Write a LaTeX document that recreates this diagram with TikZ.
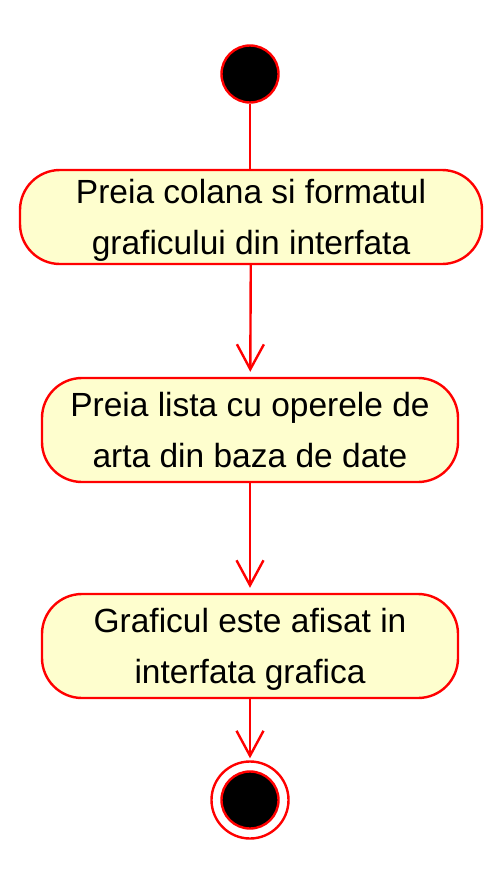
\documentclass[tikz,border=0pt]{standalone}
\usepackage{fontspec}
\setmainfont{Liberation Sans}
\usepackage{xcolor}
\usetikzlibrary{positioning,arrows.meta}
\definecolor{actfill}{HTML}{FEFECE}
\definecolor{actline}{HTML}{FF0000}

\begin{document}
\begin{tikzpicture}[
    x=1pt, y=-1pt,
    >={Straight Barb[length=25pt, width=27pt, line width=2.4pt]},
    flow/.style={draw=actline, line width=2.4pt},
    action/.style={rectangle, rounded corners=40pt, draw=actline, line width=2.4pt, fill=actfill,
        align=center, font=\fontsize{33.5}{51.5}\selectfont, inner sep=0pt, text depth=-12pt},
    startdot/.style={circle, draw=actline, line width=2.4pt, fill=black, minimum size=57pt, inner sep=0pt},
    enddot/.style={circle, draw=actline, line width=2.4pt, fill=white, minimum size=77pt, inner sep=0pt}
]
\useasboundingbox (0,0) rectangle (494,878);

% Start
\node[startdot] (start) at (250,74) {};

% Actions
\node[action, minimum width=462pt, minimum height=94pt] (read) at (251,217)
    {Preia colana si formatul\\graficului din interfata};
\node[action, minimum width=416pt, minimum height=104pt] (list) at (250,430)
    {Preia lista cu operele de\\arta din baza de date};
\node[action, minimum width=416pt, minimum height=104pt] (show) at (250,646)
    {Graficul este afisat in\\interfata grafica};

% End
\node[enddot] (stop) at (250,800) {};
\node[startdot] (stopin) at (stop) {};

% Flow
\draw[flow] (start) -- (start |- read.north);
\draw[flow, ->, shorten >=5pt] (read) -- (list);
\draw[flow, ->, shorten >=5pt] (list) -- (show);
\draw[flow, ->, shorten >=2pt] (show) -- (stop);
\end{tikzpicture}
\end{document}
